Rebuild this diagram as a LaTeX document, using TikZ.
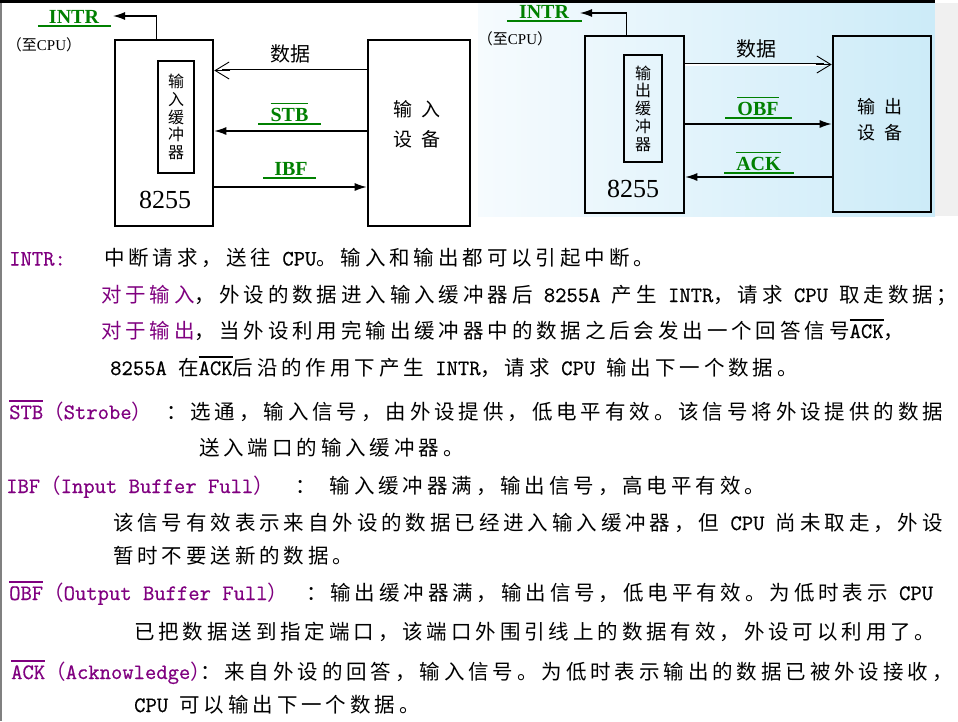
\documentclass[tikz,border=0pt]{standalone}
\usepackage{fontspec}
\usetikzlibrary{arrows.meta}
\newfontfamily\cjk{Noto Sans CJK SC}[LetterSpace=19]
\newfontfamily\cjkd{Noto Sans CJK SC}
\newfontfamily\serif{Liberation Serif}
\newfontfamily\mono{Latin Modern Mono}[FakeBold=0.6]
\definecolor{sgreen}{RGB}{0,128,0}
\definecolor{purp}{RGB}{128,0,128}
\definecolor{bgl}{RGB}{246,251,254}
\definecolor{bgr}{RGB}{204,235,248}
\newcommand\en[1]{{\mono\fontsize{22}{24}\selectfont #1}}
\newcommand\ovl[1]{\vbox{\hrule height 1.7pt\kern 3.5pt\hbox{#1}}}

\begin{document}
\begin{tikzpicture}[x=1pt, y=-1pt,
  chip/.style={draw, line width=2.6pt, inner sep=0pt},
  buf/.style={draw, line width=1.4pt, inner sep=0pt, align=center,
    font=\cjkd\fontsize{16}{17.8}\selectfont},
  devtxt/.style={align=center, inner sep=0pt, font=\cjkd\fontsize{19}{30}\selectfont},
  numlbl/.style={anchor=base, inner sep=0pt, font=\serif\fontsize{26}{28}\selectfont},
  siglbl/.style={anchor=base, inner sep=0pt, text=sgreen,
    font=\serif\bfseries\fontsize{20}{22}\selectfont},
  datlbl/.style={anchor=base, inner sep=0pt, font=\cjkd\fontsize{20}{22}\selectfont},
  cpulbl/.style={inner sep=0pt, font=\cjkd\fontsize{15}{17}\selectfont},
  uline/.style={draw=sgreen, line width=1.5pt},
  sig/.style={line width=1.3pt, -{Latex[length=12pt,width=8pt]}},
  dbus/.style={double, double distance=2pt, line width=0.9pt},
  barb/.style={line width=0.9pt, -{Straight Barb[length=14pt,width=17pt]}},
  txt/.style={anchor=base west, inner sep=0pt, font=\cjk\fontsize{20.5}{24}\selectfont}]
\useasboundingbox (0,0) rectangle (958,721);

% Background
\fill[white] (0,0) rectangle (958,721);
\shade[left color=bgl, right color=bgr] (478,3) rectangle (935,216);
\fill[black!6] (935,3) rectangle (958,216);
\fill[black] (0,0) rectangle (935,3);
\fill[gray] (0,3) rectangle (2,721);

% Input side
\node[chip, minimum width=98pt, minimum height=186pt] (chipA) at (164,133) {};
\node[chip, minimum width=102pt, minimum height=186pt] (devA) at (419,133) {};
\node[buf, minimum width=36pt, minimum height=112pt] (bufA) at (176,117) {输\\入\\缓\\冲\\器};
\node[numlbl] (numA) at (165,208) {8255};
\node[devtxt] (devAt) at (417,124) {输\hspace{10pt}入\\设\hspace{10pt}备};

\coordinate (rA1) at (0,70.5);
\coordinate (rA2) at (0,131);
\coordinate (rA3) at (0,187);
\coordinate (cpuA) at (113,16);

\node[datlbl] (datA) at (290,61) {数据};
\node[siglbl] (stbA) at (289.5,121) {\ovl{STB}};
\node[siglbl] (ibfA) at (291,175) {IBF};
\node[siglbl] (intrA) at (74,23) {INTR};
\node[cpulbl] (toA) at (44,45) {（至{\serif CPU}）};

\draw[dbus] (devA.west |- rA1) -- ([xshift=8pt]chipA.east |- rA1);
\draw[barb] ([xshift=16pt]chipA.east |- rA1) -- (chipA.east |- rA1);
\draw[sig] (devA.west |- rA2) -- (chipA.east |- rA2);
\draw[sig] (chipA.east |- rA3) -- (devA.west |- rA3);
\draw[sig] ([xshift=43pt]chipA.north west) |- (cpuA);

\draw[uline] ([xshift=-12pt,yshift=-3pt]stbA.base west) -- ([xshift=12pt,yshift=-3pt]stbA.base east);
\draw[uline] ([xshift=-11pt,yshift=-3pt]ibfA.base west) -- ([xshift=8pt,yshift=-3pt]ibfA.base east);
\draw[uline] ([xshift=-11pt,yshift=-3pt]intrA.base west) -- ([xshift=12pt,yshift=-3pt]intrA.base east);

% Output side
\node[chip, minimum width=99pt, minimum height=177pt] (chipB) at (634.5,124.5) {};
\node[chip, minimum width=98pt, minimum height=176pt] (devB) at (882,124) {};
\node[buf, minimum width=38pt, minimum height=107pt] (bufB) at (643,108.5) {输\\出\\缓\\冲\\器};
\node[numlbl] (numB) at (633,197) {8255};
\node[devtxt, font=\cjkd\fontsize{18}{26}\selectfont] (devBt) at (880,119.5) {输\hspace{9pt}出\\设\hspace{9pt}备};

\coordinate (rB1) at (0,64.5);
\coordinate (rB2) at (0,124);
\coordinate (rB3) at (0,177);
\coordinate (cpuB) at (580,13);

\node[datlbl] (datB) at (756,56) {数据};
\node[siglbl] (obfB) at (758,115) {\ovl{OBF}};
\node[siglbl] (ackB) at (758.5,170) {\ovl{ACK}};
\node[siglbl] (intrB) at (544,18) {INTR};
\node[cpulbl] (toB) at (515,39) {（至{\serif CPU}）};

\draw[dbus] (chipB.east |- rB1) -- ([xshift=-8pt]devB.west |- rB1);
\draw[barb] ([xshift=-16pt]devB.west |- rB1) -- (devB.west |- rB1);
\draw[sig] (chipB.east |- rB2) -- (devB.west |- rB2);
\draw[sig] (devB.west |- rB3) -- (chipB.east |- rB3);
\draw[sig] ([xshift=43pt]chipB.north west) |- (cpuB);

\draw[uline] ([xshift=-12pt,yshift=-3pt]obfB.base west) -- ([xshift=13pt,yshift=-3pt]obfB.base east);
\draw[uline] ([xshift=-12pt,yshift=-3pt]ackB.base west) -- ([xshift=13pt,yshift=-3pt]ackB.base east);
\draw[uline] ([xshift=-12pt,yshift=-3pt]intrB.base west) -- ([xshift=13pt,yshift=-3pt]intrB.base east);

% Text lines
\node[txt, text=purp] (l1a) at (9,265.5) {\en{INTR:}};
\node[txt] (l1b) at (104,265.5) {中断请求，送往\en{ CPU}。输入和输出都可以引起中断。};
\node[txt] (l2) at (101,302) {\textcolor{purp}{对于输入}，外设的数据进入输入缓冲器后\en{ 8255A }产生\en{ INTR}，请求\en{ CPU }取走数据；};
\node[txt] (l3) at (101,338) {\textcolor{purp}{对于输出}，当外设利用完输出缓冲器中的数据之后会发出一个回答信号\en{\ovl{ACK}}，};
\node[txt] (l4) at (110,375) {\en{8255A }在\en{\ovl{ACK}}后沿的作用下产生\en{ INTR}，请求\en{ CPU }输出下一个数据。};

\node[txt, text=purp] (l5a) at (9,419) {\en{\ovl{STB}}（\en{Strobe}）};
\node[txt] (l5b) at (166,419) {：选通，输入信号，由外设提供，低电平有效。该信号将外设提供的数据};
\node[txt] (l6) at (199,455) {送入端口的输入缓冲器。};

\node[txt, text=purp] (l7a) at (6,493) {\en{IBF}（\en{Input Buffer Full}）};
\node[txt] (l7b) at (295,493) {：\hspace{14pt}输入缓冲器满，输出信号，高电平有效。};
\node[txt] (l8) at (113,530) {该信号有效表示来自外设的数据已经进入输入缓冲器，但\en{ CPU }尚未取走，外设};
\node[txt] (l9) at (113,563) {暂时不要送新的数据。};

\node[txt, text=purp] (l10a) at (9,600) {\en{\ovl{OBF}}（\en{Output Buffer Full}）};
\node[txt] (l10b) at (306,600) {：输出缓冲器满，输出信号，低电平有效。为低时表示\en{ CPU}};
\node[txt] (l11) at (134,639) {已把数据送到指定端口，该端口外围引线上的数据有效，外设可以利用了。};

\node[txt, text=purp] (l12a) at (11,679) {\en{\ovl{ACK}}（\en{Acknowledge}）};
\node[txt] (l12b) at (200,679) {：来自外设的回答，输入信号。为低时表示输出的数据已被外设接收，};
\node[txt] (l13) at (134,712) {\en{CPU }可以输出下一个数据。};
\end{tikzpicture}
\end{document}
